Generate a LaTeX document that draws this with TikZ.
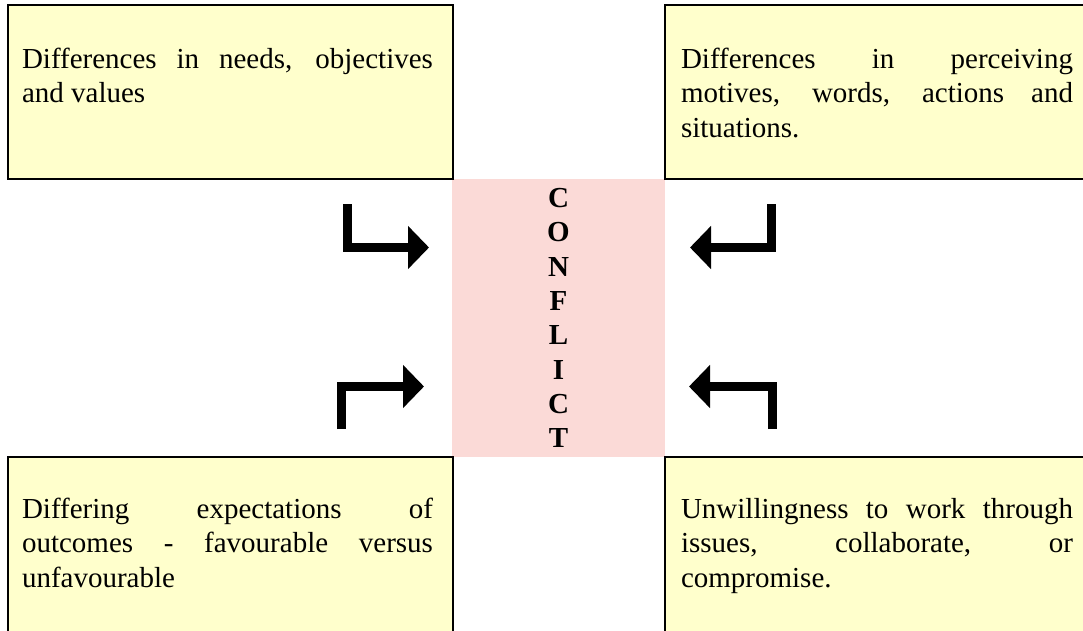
\documentclass[tikz,border=0pt]{standalone}
\usepackage{fontspec}
\setmainfont{Liberation Serif}
\usetikzlibrary{arrows.meta}
\definecolor{boxyellow}{HTML}{FFFFCC}
\definecolor{conflictpink}{HTML}{FBDAD7}
\newcommand{\jline}[1]{\makebox[\linewidth][s]{#1}\par}
\begin{document}
\begin{tikzpicture}[x=1pt,y=-1pt,
  causebox/.style={rectangle, draw=black, line width=2.5pt, fill=boxyellow, inner sep=0pt, outer sep=0pt},
  causetext/.style={anchor=base west, inner sep=0pt, outer sep=0pt, font=\fontsize{29}{34.5}\selectfont},
  bentarrow/.style={line width=9pt, line join=miter, -{Triangle[length=21pt,width=42pt]}}]
\useasboundingbox (0,0) rectangle (1083,630);
\clip (0,0) rectangle (1083,630);

% central box
\node[fill=conflictpink, minimum width=213pt, minimum height=278pt, inner sep=0pt,
      font=\fontsize{29}{34.3}\selectfont\bfseries, align=center] (conflict) at (558.5,318)
      {C\\O\\N\\F\\L\\I\\C\\T};

% cause boxes
\node[causebox, minimum width=445pt, minimum height=174pt] (tl) at (230.5,92) {};
\node[causebox, minimum width=435pt, minimum height=174pt] (tr) at (882.5,92) {};
\node[causebox, minimum width=445pt, minimum height=250pt] (bl) at (230.5,582) {};
\node[causebox, minimum width=435pt, minimum height=250pt] (br) at (882.5,582) {};

% texts
\node[causetext] (tltext) at (22,68) {\parbox[t]{411pt}{\jline{Differences in needs, objectives}and values}};
\node[causetext] (trtext) at (681,68) {\parbox[t]{392pt}{\jline{Differences in perceiving}\jline{motives, words, actions and}situations.}};
\node[causetext] (bltext) at (22,518) {\parbox[t]{411pt}{\jline{Differing expectations of}\jline{outcomes - favourable versus}unfavourable}};
\node[causetext] (brtext) at (681,518) {\parbox[t]{392pt}{\jline{Unwillingness to work through}\jline{issues, collaborate, or}compromise.}};

% bent arrows
\coordinate (tlstart) at (347.5,204);
\coordinate (tltip) at (429,247.5);
\coordinate (trstart) at (771.5,204);
\coordinate (trtip) at (690,247.5);
\coordinate (blstart) at (341.5,429);
\coordinate (bltip) at (424,386.5);
\coordinate (brstart) at (772,429);
\coordinate (brtip) at (689,386.5);
\draw[bentarrow] (tlstart) |- (tltip);
\draw[bentarrow] (trstart) |- (trtip);
\draw[bentarrow] (blstart) |- (bltip);
\draw[bentarrow] (brstart) |- (brtip);
\end{tikzpicture}
\end{document}
